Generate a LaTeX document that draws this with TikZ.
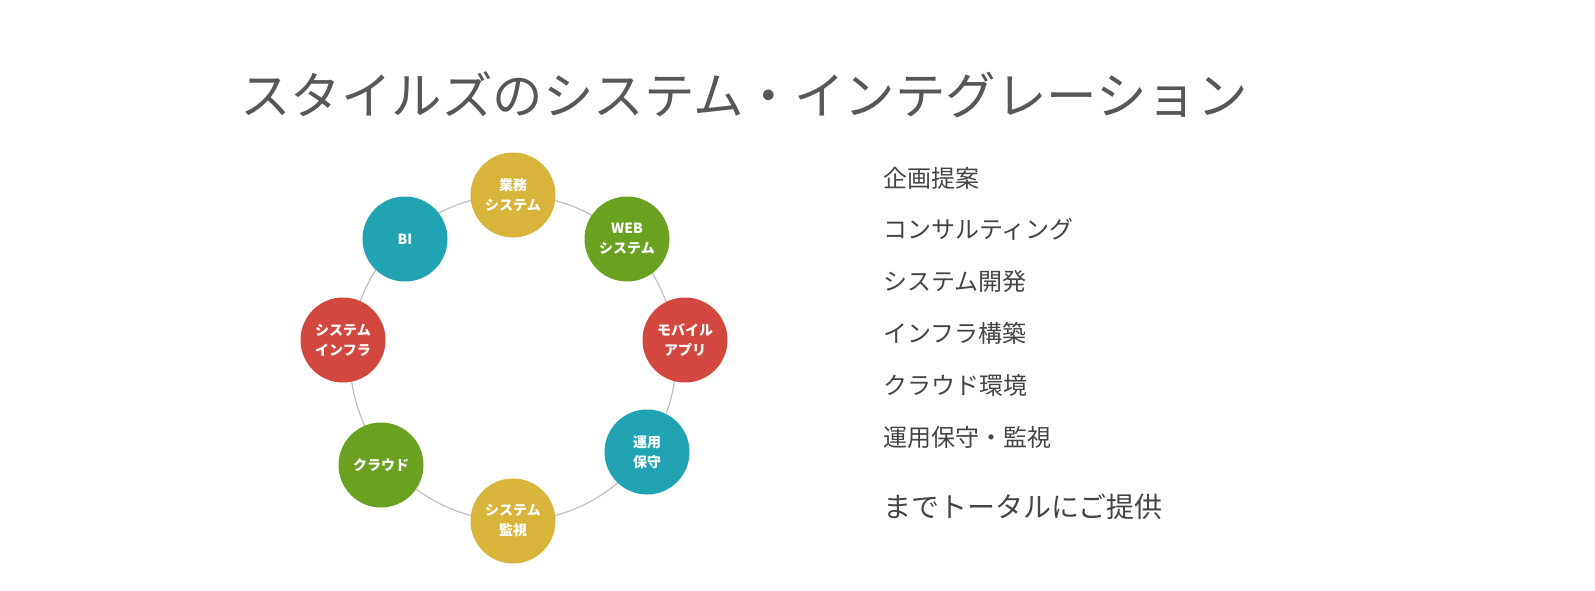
\documentclass[tikz,border=0pt]{standalone}
\usepackage{fontspec}
\setmainfont{Noto Sans CJK JP}
\definecolor{cy}{HTML}{D9B43A}
\definecolor{cg}{HTML}{6AA121}
\definecolor{cr}{HTML}{D2483F}
\definecolor{ct}{HTML}{22A3B3}
\definecolor{tx}{HTML}{444444}
\tikzset{bub/.style={circle,minimum size=85pt,inner sep=0pt,text=white,align=center,font=\fontsize{14}{20}\selectfont\bfseries},
item/.style={anchor=west,inner sep=0pt,text=tx,font=\fontsize{24}{28}\selectfont}}
\begin{document}
\begin{tikzpicture}[x=1pt,y=-1pt]
\useasboundingbox (0,0) rectangle (1595,591);
\node[text=tx!90,font=\fontsize{50.5}{54}\selectfont] (title) at (744,95) {スタイルズのシステム・インテグレーション};
\draw[gray!50,line width=1.2pt] (513,358) circle (163);
\node[bub,fill=cy] (a) at (513,195) {業務\\システム};
\node[bub,fill=cg] (b) at (627,239) {WEB\\システム};
\node[bub,fill=cr] (c) at (685,340) {モバイル\\アプリ};
\node[bub,fill=ct] (d) at (647,452) {運用\\保守};
\node[bub,fill=cy] (e) at (513,521) {システム\\監視};
\node[bub,fill=cg] (f) at (381,465) {クラウド};
\node[bub,fill=cr] (g) at (343,340) {システム\\インフラ};
\node[bub,fill=ct] (h) at (405,239) {BI};
\node[item] (l1) at (883,178) {企画提案};
\node[item] (l2) at (883,229) {コンサルティング};
\node[item] (l3) at (883,281) {システム開発};
\node[item] (l4) at (883,333) {インフラ構築};
\node[item] (l5) at (883,385) {クラウド環境};
\node[item] (l6) at (883,437) {運用保守・監視};
\node[item,font=\fontsize{28}{32}\selectfont] (l7) at (883,507) {までトータルにご提供};
\end{tikzpicture}
\end{document}
